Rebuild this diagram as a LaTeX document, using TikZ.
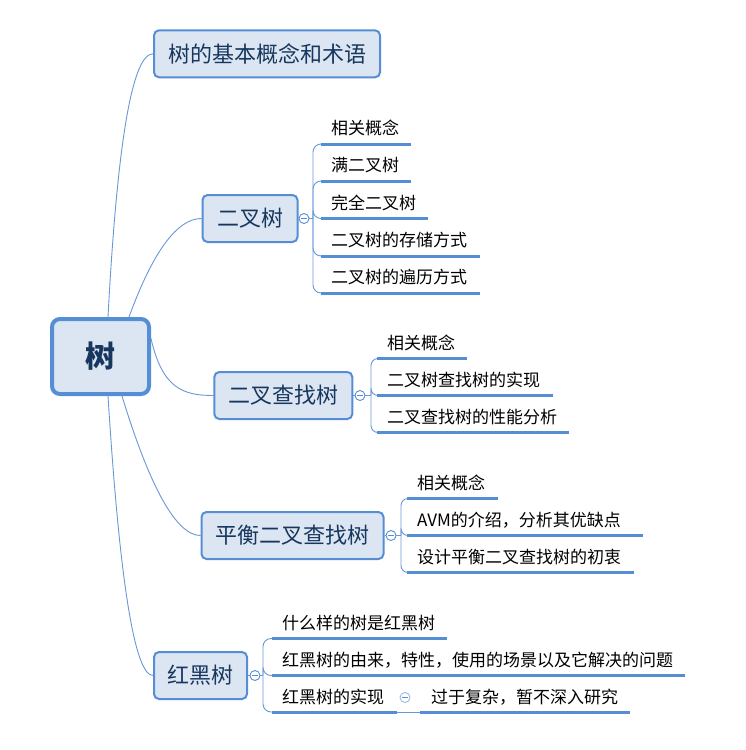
\documentclass[tikz,border=0pt]{standalone}
\usepackage{fontspec}
\setmainfont{Noto Sans CJK SC}
\usetikzlibrary{backgrounds}
\definecolor{boxfill}{RGB}{220,230,242}
\definecolor{boxline}{RGB}{85,142,213}
\definecolor{linkc}{RGB}{105,152,214}
\definecolor{navy}{RGB}{23,55,94}
\tikzset{
  rootbox/.style={draw=boxline, fill=boxfill, line width=4pt, rounded corners=8pt,
    minimum width=97pt, minimum height=75pt, inner sep=0pt,
    font=\fontsize{30}{30}\selectfont\bfseries, text=navy},
  topbox/.style={draw=boxline, fill=boxfill, line width=2pt, rounded corners=5pt,
    minimum height=47pt, inner sep=0pt, font=\fontsize{22}{22}\selectfont, text=navy},
  leaf/.style={anchor=base west, inner sep=0pt, font=\fontsize{17}{17}\selectfont, text=black},
  uline/.style={draw=boxline, line width=3pt},
  link/.style={draw=linkc, line width=0.9pt},
  fold/.style={circle, draw=boxline, fill=white, line width=0.9pt, minimum size=10pt, inner sep=0pt,
    path picture={\draw[boxline, line width=0.9pt]
      ([xshift=-2.6pt]path picture bounding box.center) -- ([xshift=2.6pt]path picture bounding box.center);}},
}
\begin{document}
\begin{tikzpicture}[x=1pt,y=-1pt]
\useasboundingbox (0,0) rectangle (745,750);

% main topics
\node[rootbox] (root) at (100.5,356.5) {树};
\node[topbox, minimum width=226pt] (c1) at (267,53.8) {树的基本概念和术语};
\node[topbox, minimum width=95pt] (c2) at (250,218.5) {二叉树};
\node[topbox, minimum width=138pt] (c3) at (283.3,395.5) {二叉查找树};
\node[topbox, minimum width=182pt] (c4) at (292.5,535.5) {平衡二叉查找树};
\node[topbox, minimum width=93pt] (c5) at (200.5,675.5) {红黑树};

\begin{scope}[on background layer]
\fill[white] (0,0) rectangle (745,750);
\draw[link] ([xshift=7.5pt]root.north) .. controls (117.3,142) and (132.3,53.8) .. (c1.west);
\draw[link] ([xshift=28.5pt]root.north) .. controls (153,251.3) and (177.3,218.5) .. (c2.west);
\draw[link] ([yshift=18pt]root.east) .. controls (162.3,388.3) and (183,395.5) .. (c3.west);
\draw[link] ([xshift=21.5pt]root.south) .. controls (150.3,488.7) and (176.7,535.5) .. (c4.west);
\draw[link] ([xshift=7.5pt]root.south) .. controls (119.7,582) and (134.7,675.5) .. (c5.west);
\end{scope}

% ---- 二叉树
\coordinate (s2) at (313,218.5);
\coordinate (a1) at (321,144);   \coordinate (a1e) at (411,144);
\coordinate (a2) at (321,181);   \coordinate (a2e) at (411,181);
\coordinate (a3) at (321,218.5); \coordinate (a3e) at (428,218.5);
\coordinate (a4) at (321,256);   \coordinate (a4e) at (480,256);
\coordinate (a5) at (321,293);   \coordinate (a5e) at (480,293);
\draw[link] (c2.east) -- (s2);
\foreach \p in {a1,a2,a3,a4,a5} {\draw[link, rounded corners=8pt] (s2) |- (\p);}
\foreach \p in {a1,a2,a3,a4,a5} {\draw[uline] (\p) -- (\p e);}
\node[fold] (f2) at (304,218.5) {};
\node[leaf] (t1) at (331,134.5) {相关概念};
\node[leaf] (t2) at (331,171.5) {满二叉树};
\node[leaf] (t3) at (331,209) {完全二叉树};
\node[leaf] (t4) at (331,246.5) {二叉树的存储方式};
\node[leaf] (t5) at (331,283.5) {二叉树的遍历方式};

% ---- 二叉查找树
\coordinate (s3) at (371,395.5);
\coordinate (b1) at (377,358.5); \coordinate (b1e) at (467,358.5);
\coordinate (b2) at (377,395.5); \coordinate (b2e) at (553,395.5);
\coordinate (b3) at (377,432.5); \coordinate (b3e) at (569,432.5);
\draw[link] (c3.east) -- (s3);
\foreach \p in {b1,b2,b3} {\draw[link, rounded corners=7pt] (s3) |- (\p);}
\foreach \p in {b1,b2,b3} {\draw[uline] (\p) -- (\p e);}
\node[fold] (f3) at (360,395.5) {};
\node[leaf] (u1) at (387,349) {相关概念};
\node[leaf] (u2) at (387,386) {二叉树查找树的实现};
\node[leaf] (u3) at (387,423) {二叉查找树的性能分析};

% ---- 平衡二叉查找树
\coordinate (s4) at (401,535.5);
\coordinate (d1) at (407,498.5); \coordinate (d1e) at (498,498.5);
\coordinate (d2) at (407,535.5); \coordinate (d2e) at (643,535.5);
\coordinate (d3) at (407,572.5); \coordinate (d3e) at (634,572.5);
\draw[link] (c4.east) -- (s4);
\foreach \p in {d1,d2,d3} {\draw[link, rounded corners=7pt] (s4) |- (\p);}
\foreach \p in {d1,d2,d3} {\draw[uline] (\p) -- (\p e);}
\node[fold] (f4) at (391,535.5) {};
\node[leaf] (v1) at (417,489) {相关概念};
\node[leaf] (v2) at (417,526) {AVM的介绍，分析其优缺点};
\node[leaf] (v3) at (417,563) {设计平衡二叉查找树的初衷};

% ---- 红黑树
\coordinate (s5) at (263,675.5);
\coordinate (e1) at (272,638.5); \coordinate (e1e) at (447,638.5);
\coordinate (e2) at (272,675.5); \coordinate (e2e) at (685,675.5);
\coordinate (e3) at (272,712);   \coordinate (e3e) at (397,712);
\coordinate (g1) at (420,712);   \coordinate (g1e) at (630,712);
\draw[link] (c5.east) -- (s5);
\foreach \p in {e1,e2,e3} {\draw[link, rounded corners=8pt] (s5) |- (\p);}
\draw[link] (e3e) -- (g1);
\foreach \p in {e1,e2,e3,g1} {\draw[uline] (\p) -- (\p e);}
\node[fold] (f5) at (255,675.5) {};
\node[leaf] (w1) at (282,629) {什么样的树是红黑树};
\node[leaf] (w2) at (282,666) {红黑树的由来，特性，使用的场景以及它解决的问题};
\node[leaf] (w3) at (282,703) {红黑树的实现};
\node[fold, draw=boxline!60] (f6) at (405,697.5) {};
\node[leaf] (w4) at (431,703) {过于复杂，暂不深入研究};
\end{tikzpicture}
\end{document}
